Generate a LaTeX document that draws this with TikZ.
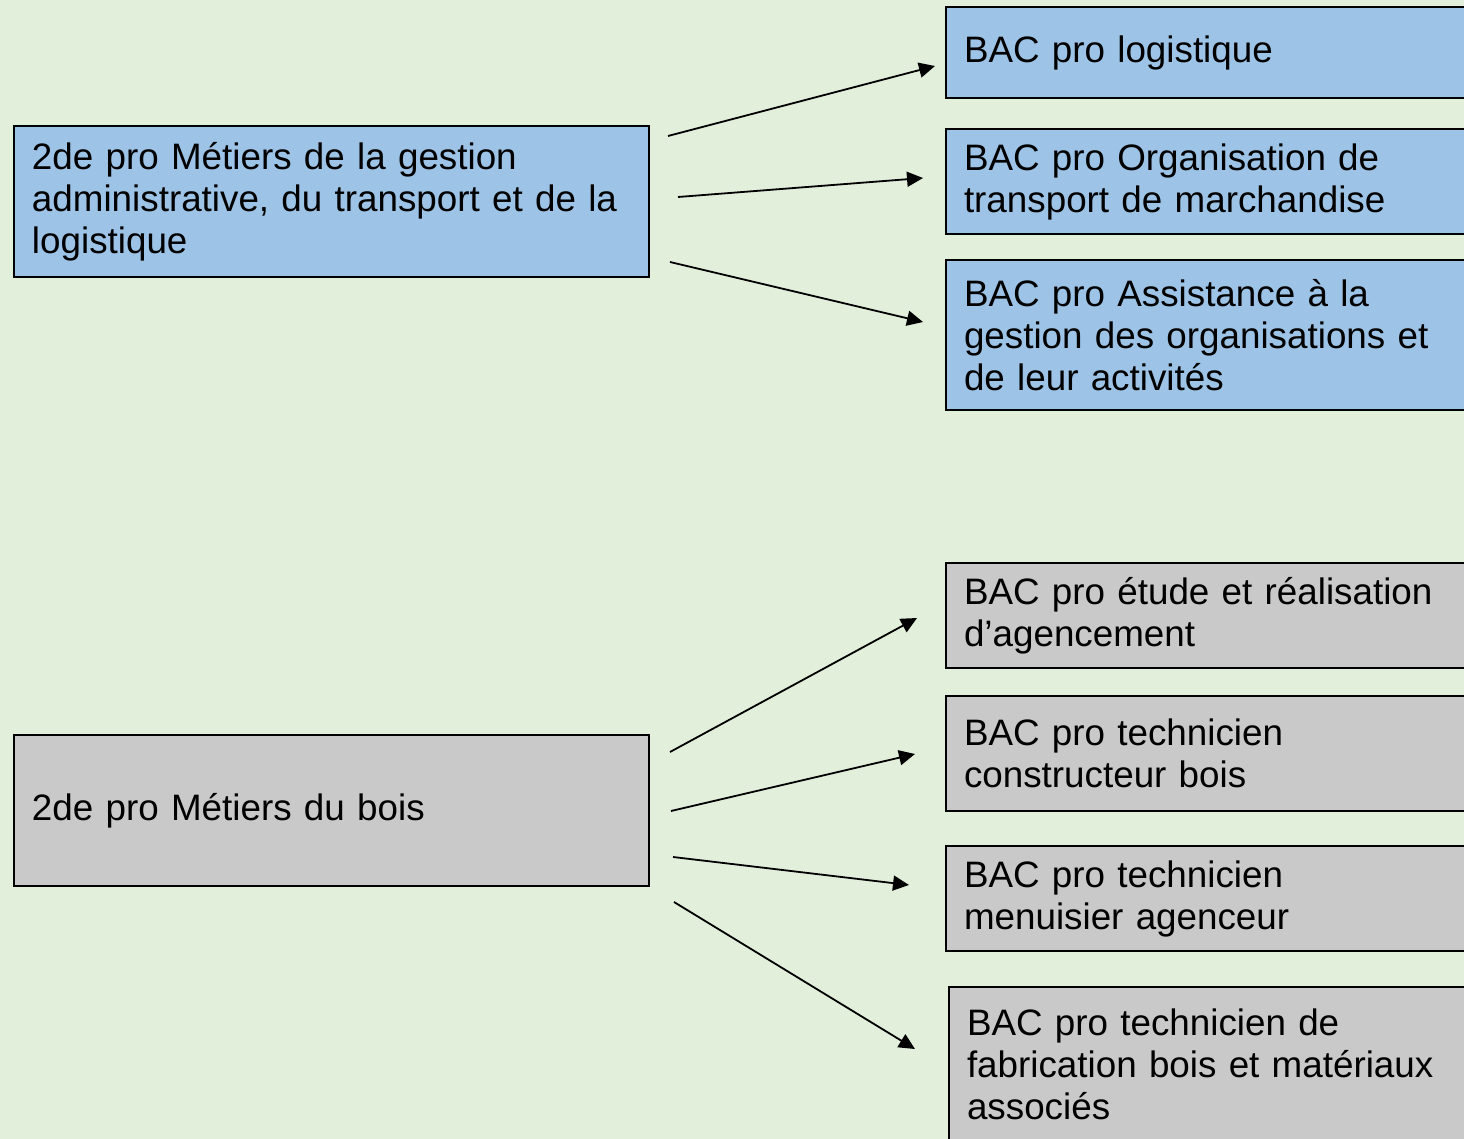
\documentclass[tikz,border=0pt]{standalone}
\usepackage{fontspec}
\setmainfont{Liberation Sans}
\usetikzlibrary{calc}
\usetikzlibrary{arrows.meta}
\definecolor{bgreen}{RGB}{226,239,218}
\definecolor{bblue}{RGB}{157,195,230}
\definecolor{bgrey}{RGB}{201,201,201}
\tikzset{
  box/.style={draw=black, line width=1pt, rectangle, anchor=north west, inner ysep=0pt,
    align=left, font=\fontsize{18.4}{21}\selectfont},
  leftbox/.style={box, inner xsep=9pt, text width=299.5pt, minimum height=75.5pt},
  rightbox/.style={box, inner xsep=9pt, text width=300pt},
  bluebox/.style={fill=bblue},
  greybox/.style={fill=bgrey},
  link/.style={line width=0.9pt, -{Triangle[length=8pt, width=7.5pt]}}
}

\begin{document}
\begin{tikzpicture}[x=0.5pt, y=-0.5pt]
  \fill[bgreen] (0,0) rectangle (1464,1139);
  \useasboundingbox (0,0) rectangle (1464,1139);
  \clip (0,0) rectangle (1464,1139);
  % first branch
  \node[leftbox, bluebox] (gestion) at (13,125)
    {2de pro Métiers de la gestion\\administrative, du transport et de la\\logistique};
  \node[rightbox, bluebox, minimum height=45.5pt] (logistique) at (945,6) {BAC pro logistique};
  \node[rightbox, bluebox, minimum height=52.5pt] (transport) at (945,128)
    {BAC pro Organisation de\\transport de marchandise};
  \node[rightbox, bluebox, minimum height=75pt] (assistance) at (945,259)
    {BAC pro Assistance à la\\gestion des organisations et\\de leur activités};
  \draw[link] ($(gestion.north east)+(18,11)$) -- ($(logistique.north west)+(-10,60)$);
  \draw[link] ($(gestion.north east)+(28,72)$) -- ($(transport.north west)+(-22,50)$);
  \draw[link] ($(gestion.north east)+(20,137)$) -- ($(assistance.north west)+(-22,63)$);
  % second branch
  \node[leftbox, greybox] (bois) at (13,734) {2de pro Métiers du bois};
  \node[rightbox, greybox, minimum height=52.5pt] (agencement) at (945,562)
    {BAC pro étude et réalisation\\d’agencement};
  \node[rightbox, greybox, minimum height=57.5pt] (constructeur) at (945,695)
    {BAC pro technicien\\constructeur bois};
  \node[rightbox, greybox, minimum height=52.5pt] (menuisier) at (945,845)
    {BAC pro technicien\\menuisier agenceur};
  \node[rightbox, greybox, minimum height=77.5pt] (fabrication) at (948,986)
    {BAC pro technicien de\\fabrication bois et matériaux\\associés};
  \draw[link] ($(bois.north east)+(20,18)$) -- ($(agencement.north west)+(-28,56)$);
  \draw[link] ($(bois.north east)+(21,77)$) -- ($(constructeur.north west)+(-30,59)$);
  \draw[link] ($(bois.north east)+(23,123)$) -- ($(menuisier.north west)+(-36,40)$);
  \draw[link] ($(bois.north east)+(24,168)$) -- ($(fabrication.north west)+(-33,63)$);
\end{tikzpicture}
\end{document}
